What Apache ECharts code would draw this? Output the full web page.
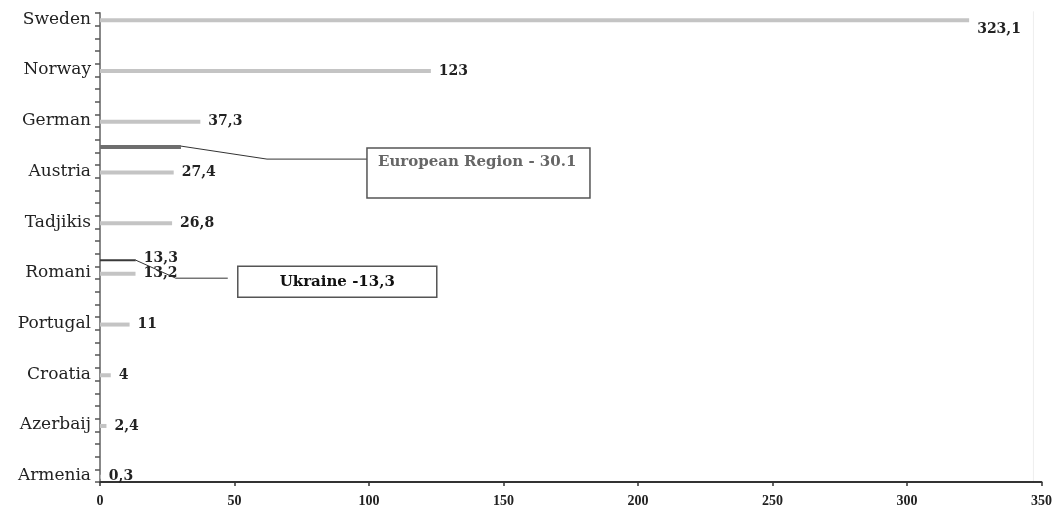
<!DOCTYPE html>
<html>
<head>
<meta charset="utf-8">
<script src="https://cdn.jsdelivr.net/npm/echarts@6/dist/echarts.min.js"></script>
<style>
html,body{margin:0;padding:0;background:#fff;}
#chart{width:1055px;height:517px;}
</style>
</head>
<body>
<div id="chart"></div>
<script>
// ---- data ----
const countries = ['Sweden','Norway','German','Austria','Tadjikis','Romani','Portugal','Croatia','Azerbaij','Armenia'];
const values = [323.1, 123, 37.3, 27.4, 26.8, 13.2, 11, 4, 2.4, 0.3];
const refNames = ['European Region', 'Ukraine'];
const refValues = [30.1, 13.3];
const refCaptions = ['European Region - 30.1', 'Ukraine -13,3'];
const xTicks = [0, 50, 100, 150, 200, 250, 300, 350];

// ---- layout (slots on the category axis) ----
const STEP = 4;                       // slots per labelled country
const SLOT_COUNT = (countries.length - 1) * STEP + 1;
const refSlots = [2 * STEP + 2, 5 * STEP - 1];   // between German/Austria, just above Romani
const fmt = v => String(v).replace('.', ',');

const axisData = new Array(SLOT_COUNT).fill('');
countries.forEach((c, i) => { axisData[i * STEP] = c; });

const mainData = new Array(SLOT_COUNT).fill(null);
values.forEach((v, i) => {
  mainData[i * STEP] = {
    value: v,
    label: i === 0 ? { offset: [0, 9] } : {}
  };
});

const serif = 'DejaVu Serif';
const refStyles = [
  { color: '#6e6e6e', width: 4, label: false },
  { color: '#3a3a3a', width: 2, label: true }
];

const refSeries = refNames.map((name, k) => {
  const d = new Array(SLOT_COUNT).fill(null);
  d[refSlots[k]] = refValues[k];
  return {
    name: name,
    type: 'bar',
    data: d,
    barWidth: refStyles[k].width,
    barGap: '-100%',
    itemStyle: { color: refStyles[k].color },
    silent: true,
    z: 3,
    label: {
      show: refStyles[k].label,
      position: 'right',
      distance: 8,
      offset: [0, -2],
      formatter: p => fmt(p.value),
      fontFamily: serif, fontWeight: 'bold', fontSize: 14, color: '#222'
    }
  };
});

const chart = echarts.init(document.getElementById('chart'));
const option = {
  animation: false,
  backgroundColor: '#fff',
  grid: { left: 100, right: 9, top: 13, bottom: 35, containLabel: false },
  xAxis: {
    type: 'value', min: xTicks[0], max: xTicks[xTicks.length - 1], interval: 50,
    axisLine: { show: true, lineStyle: { color: '#333', width: 2 } },
    axisTick: { show: true, length: 4, lineStyle: { color: '#333', width: 1.5 } },
    splitLine: { show: false },
    axisLabel: { fontFamily: 'Liberation Serif', fontWeight: 'bold', fontSize: 14, color: '#222', margin: 12 }
  },
  yAxis: {
    type: 'category', inverse: true, data: axisData,
    axisLine: { show: true, lineStyle: { color: '#888', width: 2 } },
    axisTick: { show: true, interval: 0, length: 5, lineStyle: { color: '#555', width: 1.5 } },
    axisLabel: { interval: 0, fontFamily: serif, fontSize: 17, color: '#222', margin: 9 }
  },
  series: [{
    name: 'values',
    type: 'bar',
    data: mainData,
    barWidth: 4,
    itemStyle: { color: '#c4c4c4' },
    z: 2,
    label: {
      show: true, position: 'right', distance: 8,
      formatter: p => fmt(p.value),
      fontFamily: serif, fontWeight: 'bold', fontSize: 14, color: '#222'
    }
  }].concat(refSeries)
};
chart.setOption(option);

// ---- callouts anchored on the bar ends ----
const callout = [
  { d2: [86, 13], d3: [186, 13], box: [186, 2, 223, 50], text: [11, 14], color: '#666', size: 15, align: 'left' },
  { d2: [40, 18], d3: [92, 18], box: [102, 6, 199, 31], text: [99.5, 16], color: '#111', size: 15, align: 'center' }
];
const graphics = [];
refValues.forEach((v, k) => {
  const [ex, ey] = chart.convertToPixel({ xAxisIndex: 0, yAxisIndex: 0 }, [v, refSlots[k]]);
  const c = callout[k];
  graphics.push({
    type: 'polyline', silent: true, z: 10,
    shape: { points: [[ex, ey], [ex + c.d2[0], ey + c.d2[1]], [ex + c.d3[0], ey + c.d3[1]]] },
    style: { stroke: '#333', lineWidth: 1, fill: null }
  });
  graphics.push({
    type: 'rect', silent: true, z: 10,
    shape: { x: ex + c.box[0], y: ey + c.box[1], width: c.box[2], height: c.box[3] },
    style: { stroke: '#555', lineWidth: 1.5, fill: '#fff' }
  });
  graphics.push({
    type: 'text', silent: true, z: 11,
    x: ex + c.box[0] + c.text[0], y: ey + c.box[1] + c.text[1],
    style: {
      text: refCaptions[k], fontFamily: serif, fontWeight: 'bold', fontSize: c.size,
      fill: c.color, textAlign: c.align, textVerticalAlign: 'middle'
    }
  });
});
// faint right frame line along the plot area
const frameTop = chart.convertToPixel({ xAxisIndex: 0, yAxisIndex: 0 }, [347, 0]);
const frameBot = chart.convertToPixel({ xAxisIndex: 0, yAxisIndex: 0 }, [347, SLOT_COUNT - 1]);
graphics.push({
  type: 'line', silent: true, z: 0,
  shape: { x1: frameTop[0], y1: frameTop[1] - 8, x2: frameBot[0], y2: frameBot[1] + 7 },
  style: { stroke: '#eeeeee', lineWidth: 1 }
});
chart.setOption({ graphic: graphics });
</script>
</body>
</html>
